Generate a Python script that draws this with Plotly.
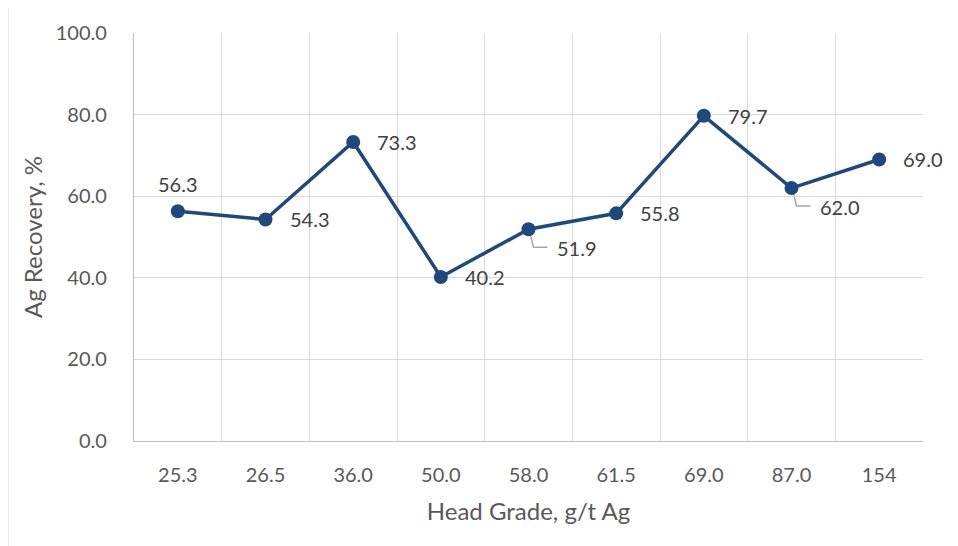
import plotly.graph_objects as go

head_grade = ["25.3", "26.5", "36.0", "50.0", "58.0", "61.5", "69.0", "87.0", "154"]
ag_recovery = [56.3, 54.3, 73.3, 40.2, 51.9, 55.8, 79.7, 62.0, 69.0]
label_text = ["56.3", "54.3", "73.3", "40.2", "51.9", "55.8", "79.7", "62.0", "69.0"]
# label placement per point: "above", "right", "leader"
label_pos = ["above", "right", "right", "right", "leader", "right", "right", "leader", "right"]

y_ticks = [0, 20, 40, 60, 80, 100]

LINE = "#1F497D"
FONT = "Lato"
TICKC = "#595959"
LABC = "#404040"
GRID = "#D9D9D9"
AXL = "#BFBFBF"

xpos = list(range(len(head_grade)))

fig = go.Figure()
fig.add_trace(go.Scatter(
    x=xpos, y=ag_recovery, mode="lines+markers",
    line=dict(color=LINE, width=3.5),
    marker=dict(color=LINE, size=14),
    hoverinfo="skip", showlegend=False,
))

annotations = []
shapes = []
for xi, val, txt, pos in zip(xpos, ag_recovery, label_text, label_pos):
    if pos == "above":
        annotations.append(dict(x=xi, y=val, xref="x", yref="y", text=txt,
                                showarrow=False, xanchor="center", yanchor="middle",
                                yshift=27, font=dict(family=FONT, size=20, color=LABC)))
    elif pos == "right":
        annotations.append(dict(x=xi, y=val, xref="x", yref="y", text=txt,
                                showarrow=False, xanchor="left", yanchor="middle",
                                xshift=22, yshift=0, font=dict(family=FONT, size=20, color=LABC)))
    else:
        annotations.append(dict(x=xi, y=val, xref="x", yref="y", text=txt,
                                showarrow=False, xanchor="left", yanchor="middle",
                                xshift=26, yshift=-19, font=dict(family=FONT, size=20, color=LABC)))
        shapes.append(dict(type="path", xref="x", yref="y",
                           xsizemode="pixel", ysizemode="pixel",
                           xanchor=xi, yanchor=val,
                           path="M 1 -2 L 5 -18 L 19 -18",
                           line=dict(color="#A6A6A6", width=1.5), layer="below"))

# outer chart border (left and top edges visible)
shapes.append(dict(type="line", xref="paper", yref="paper", x0=-0.1600, x1=-0.1600,
                   y0=-0.30, y1=1.0634, line=dict(color=GRID, width=1.5)))
shapes.append(dict(type="line", xref="paper", yref="paper", x0=-0.1600, x1=1.10,
                   y0=1.0634, y1=1.0634, line=dict(color=GRID, width=1.5)))

fig.update_layout(
    width=950, height=538,
    margin=dict(l=126, r=35, t=23, b=105),
    paper_bgcolor="white", plot_bgcolor="white",
    font=dict(family=FONT, size=20, color=TICKC),
    annotations=annotations, shapes=shapes,
    xaxis=dict(
        tickmode="array", tickvals=xpos, ticktext=head_grade, showgrid=False,
        minor=dict(tick0=0.5, dtick=1, showgrid=True, gridcolor=GRID, gridwidth=1.3, ticks=""),
        showline=True, linecolor=AXL, linewidth=1.3, ticks="", ticklabelstandoff=16,
        zeroline=False,
        tickfont=dict(family=FONT, size=20, color=TICKC),
        title=dict(text="Head Grade, g/t Ag", standoff=18,
                   font=dict(family=FONT, size=24, color=TICKC)),
        range=[-0.5, len(head_grade) - 0.5],
    ),
    yaxis=dict(
        range=[0, 100], tickvals=y_ticks, tickformat=".1f", showgrid=True, gridcolor=GRID,
        gridwidth=1.3, showline=True, linecolor=AXL, linewidth=1.3, zeroline=False,
        ticks="", ticklabelstandoff=22,
        tickfont=dict(family=FONT, size=20, color=TICKC),
        title=dict(text="Ag Recovery, %", standoff=6,
                   font=dict(family=FONT, size=24, color=TICKC)),
    ),
)

fig.write_html("out.html")
